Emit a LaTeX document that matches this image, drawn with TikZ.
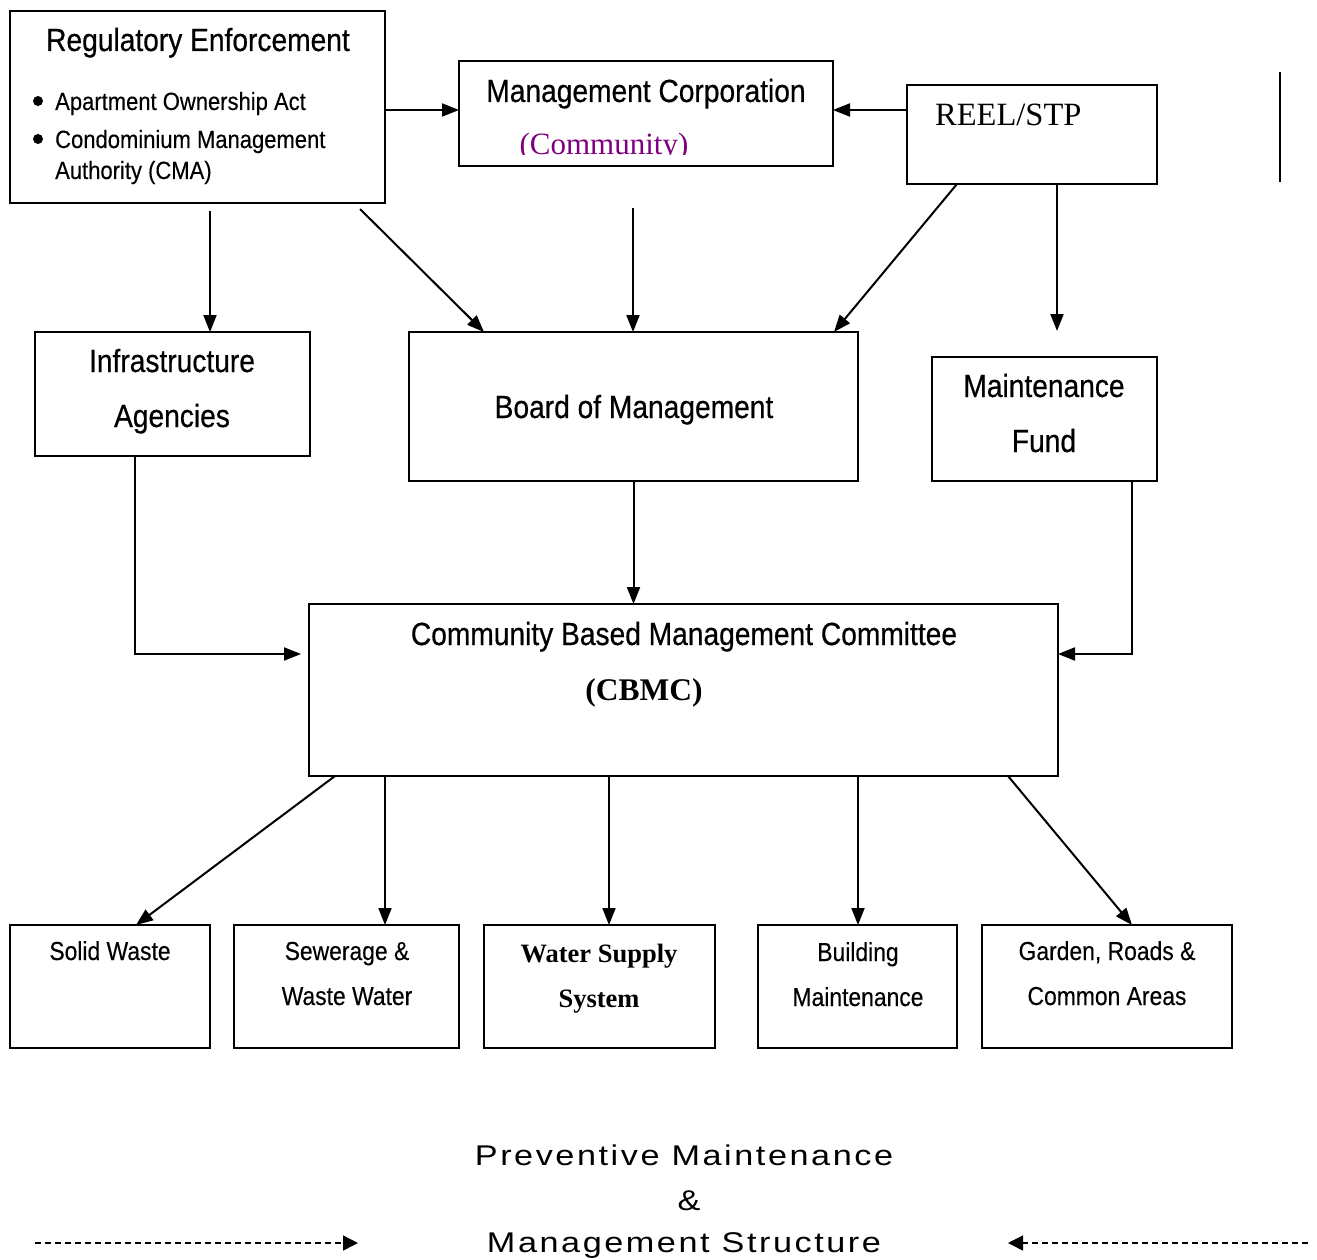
\documentclass[tikz,border=0pt]{standalone}
\usepackage{fontspec}
\setmainfont{Liberation Serif}
\newfontfamily\narrowsans[FakeStretch=0.88,FakeBold=0.5]{Liberation Sans}
\newfontfamily\narrowlight[FakeStretch=0.88,FakeBold=0.25]{Liberation Sans}
\newfontfamily\widesans[FakeStretch=1.2,LetterSpace=9]{Liberation Sans}
\usetikzlibrary{arrows.meta}
\definecolor{mcpurple}{RGB}{128,0,128}

\tikzset{
  box/.style={draw, line width=2pt, inner sep=0, outer sep=0, anchor=north west},
  arr/.style={line width=2pt, -{Triangle[length=17pt,width=13pt]}},
  dasharr/.style={line width=1.4pt, dash pattern=on 6pt off 4pt, -{Triangle[length=15pt,width=15pt]}},
  hd/.style={font=\narrowsans\fontsize{32}{38}\selectfont, anchor=base, inner sep=0},
  sm/.style={font=\narrowlight\fontsize{25}{30}\selectfont, anchor=base west, inner sep=0},
  bt/.style={font=\narrowlight\fontsize{26}{31}\selectfont, anchor=base, inner sep=0},
  tm/.style={font=\fontsize{32}{38}\selectfont, anchor=base, inner sep=0},
  captext/.style={font=\widesans\fontsize{28.5}{34}\selectfont, anchor=base, inner sep=0},
  dot/.style={circle, fill, inner sep=0, minimum size=10pt}
}

\begin{document}
\begin{tikzpicture}[x=1pt, y=-1pt]
    \useasboundingbox (0,0) rectangle (1317,1260);

    % Top row
    \node[box, minimum width=375pt, minimum height=192pt] (reg) at (10,11) {};
    \node[box, minimum width=374pt, minimum height=105pt] (mc) at (459,61) {};
    \node[box, minimum width=250pt, minimum height=99pt] (reel) at (907,85) {};
    \draw[line width=2pt] (1280,72) -- (1280,182);

    \node[hd] (regT) at (198,51) {Regulatory Enforcement};
    \node[dot] (b1) at (38,101) {};
    \node[dot] (b2) at (38,139) {};
    \node[sm] (regA) at (55,110) {Apartment Ownership Act};
    \node[sm] (regB) at (55,148) {Condominium Management};
    \node[sm] (regC) at (55,179) {Authority (CMA)};

    \node[hd] (mcT) at (646,102) {Management Corporation};
    \begin{scope}
        \clip (459,61) rectangle (833,155);
        \node[tm, font=\fontsize{31}{37}\selectfont, text=mcpurple] (mcC) at (604,155) {(Community)};
    \end{scope}

    \node[tm, anchor=base west, font=\fontsize{32.5}{38}\selectfont] (reelT) at (935,126) {REEL/STP};

    % Middle row
    \node[box, minimum width=275pt, minimum height=124pt] (infra) at (35,332) {};
    \node[box, minimum width=449pt, minimum height=149pt] (bom) at (409,332) {};
    \node[box, minimum width=225pt, minimum height=124pt] (fund) at (932,357) {};

    \node[hd] (infraA) at (172,372) {Infrastructure};
    \node[hd] (infraB) at (172,427) {Agencies};
    \node[hd] (bomT) at (634,418) {Board of Management};
    \node[hd] (fundA) at (1044,397) {Maintenance};
    \node[hd] (fundB) at (1044,452) {Fund};

    % Committee
    \node[box, minimum width=749pt, minimum height=172pt] (cbmc) at (309,604) {};
    \node[hd] (cbmcT) at (684,645) {Community Based Management Committee};
    \node[tm, font=\bfseries\fontsize{31.5}{37}\selectfont] (cbmcS) at (644,700) {(CBMC)};

    % Bottom row
    \node[box, minimum width=200pt, minimum height=123pt] (solid) at (10,925) {};
    \node[box, minimum width=225pt, minimum height=123pt] (sewer) at (234,925) {};
    \node[box, minimum width=231pt, minimum height=123pt] (water) at (484,925) {};
    \node[box, minimum width=199pt, minimum height=123pt] (build) at (758,925) {};
    \node[box, minimum width=250pt, minimum height=123pt] (garden) at (982,925) {};

    \node[bt] (solidA) at (110,960) {Solid Waste};
    \node[bt] (sewerA) at (347,960) {Sewerage \&};
    \node[bt] (sewerB) at (347,1005) {Waste Water};
    \node[tm, font=\bfseries\fontsize{26.5}{31}\selectfont] (waterA) at (599,962) {Water Supply};
    \node[tm, font=\bfseries\fontsize{26.5}{31}\selectfont] (waterB) at (599,1007) {System};
    \node[bt] (buildA) at (858,961) {Building};
    \node[bt] (buildB) at (858,1006) {Maintenance};
    \node[bt] (gardenA) at (1107,960) {Garden, Roads \&};
    \node[bt] (gardenB) at (1107,1005) {Common Areas};

    % Connectors
    \coordinate (c1) at (210,211);
    \coordinate (c2) at (360,209);
    \coordinate (c3) at (633,208);
    \coordinate (c4) at (1057,331);
    \coordinate (c5) at (301,654);

    \draw[arr] ([yshift=-3pt]reg.east) -- ([yshift=-3pt]mc.west |- reg.east);
    \draw[arr] ([yshift=-3pt]reel.west |- reg.east) -- ([yshift=-3pt]mc.east |- reg.east);
    \draw[arr] (c1) -- (c1 |- infra.north);
    \draw[arr] (c2) -- ([xshift=75pt]bom.north west);
    \draw[arr] (c3) -- (c3 |- bom.north);
    \draw[arr] ([xshift=-75pt]reel.south) -- ([xshift=-24pt]bom.north east);
    \draw[arr] ([xshift=25pt]reel.south) -- (c4);

    \draw[arr] (bom.south) -- (bom.south |- cbmc.north);
    \draw[arr] ([xshift=-37.5pt]infra.south) |- (c5);
    \draw[arr] ([xshift=87.5pt]fund.south) |- (cbmc.east |- c5);

    \draw[arr] ([xshift=-348.5pt]cbmc.south) -- ([xshift=26pt]solid.north);
    \draw[arr] ([xshift=-298.5pt]cbmc.south) -- ([xshift=38.5pt]sewer.north);
    \draw[arr] ([xshift=-74.5pt]cbmc.south) -- ([xshift=9.5pt]water.north);
    \draw[arr] ([xshift=174.5pt]cbmc.south) -- ([xshift=0.5pt]build.north);
    \draw[arr] ([xshift=324.5pt]cbmc.south) -- ([xshift=25pt]garden.north);

    % Caption
    \node[captext] (capA) at (684,1165) {Preventive Maintenance};
    \node[captext] (capB) at (689,1210) {\&};
    \node[captext] (capC) at (684,1252) {Management Structure};

    \coordinate (dl1) at (35,1243);
    \coordinate (dl2) at (358,1243);
    \coordinate (dr1) at (1308,1243);
    \coordinate (dr2) at (1008,1243);
    \draw[dasharr] (dl1) -- (dl2);
    \draw[dasharr] (dr1) -- (dr2);
\end{tikzpicture}
\end{document}
